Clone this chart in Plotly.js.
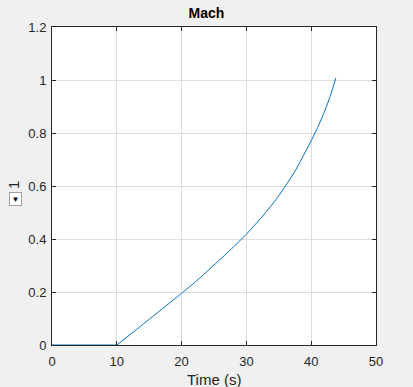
<!DOCTYPE html>
<html>
<head>
<meta charset="utf-8">
<script src="https://cdn.plot.ly/plotly-3.0.1.min.js"></script>
<style>html,body{margin:0;padding:0;background:#f0f0f0;}#chart{width:413px;height:387px;}</style>
</head>
<body>
<div id="chart"></div>
<script>
const timeS = [0, 10, 12.5, 15, 17.5, 20, 22.5, 25, 27.5, 30, 32.5, 35, 37.5, 40, 41, 42, 43, 43.8];
const mach  = [0, 0, 0.048, 0.097, 0.146, 0.195, 0.246, 0.302, 0.358, 0.418, 0.486, 0.563, 0.656, 0.771, 0.821, 0.878, 0.943, 1.008];
const xTicks = [0, 10, 20, 30, 40, 50];
const yTicks = [0, 0.2, 0.4, 0.6, 0.8, 1, 1.2];
const yTickText = ['0', '0.2', '0.4', '0.6', '0.8', '1', '1.2'];
const titleText = 'Mach';
const xTitle = 'Time (s)';
const yTitle = '1';

const font = {family: 'Liberation Sans, Arial, sans-serif', color: '#262626', size: 13};
const lineColor = '#0072BD';

// flat segment (before motion) drawn straight, the rest smoothed
const traces = [
  {x: timeS.slice(0, 2), y: mach.slice(0, 2), type: 'scatter', mode: 'lines',
   line: {color: lineColor, width: 1.2}, hoverinfo: 'skip', cliponaxis: false},
  {x: timeS.slice(1), y: mach.slice(1), type: 'scatter', mode: 'lines',
   line: {color: lineColor, width: 1, shape: 'spline', smoothing: 0.4}, hoverinfo: 'skip'}
];

Plotly.newPlot('chart', traces, {
  width: 413, height: 387,
  paper_bgcolor: '#f0f0f0', plot_bgcolor: '#ffffff',
  margin: {l: 52, r: 37, t: 27, b: 42},
  showlegend: false,
  font: font,
  title: {text: '<b>' + titleText + '</b>', font: {family: font.family, size: 14, color: '#000'}, x: 0.5, xanchor: 'center', y: 0.966, yanchor: 'middle'},
  xaxis: {
    range: [0, 50], tickvals: xTicks, ticktext: xTicks.map(String),
    showgrid: true, gridcolor: '#dcdcdc', gridwidth: 1, zeroline: false,
    showline: true, linecolor: '#262626', linewidth: 1, mirror: 'ticks',
    ticks: 'inside', ticklen: 4, tickcolor: '#262626', tickfont: font, ticklabelstandoff: 4
  },
  yaxis: {
    range: [0, 1.2], tickvals: yTicks, ticktext: yTickText,
    showgrid: true, gridcolor: '#dcdcdc', gridwidth: 1, zeroline: false,
    showline: true, linecolor: '#262626', linewidth: 1, mirror: 'ticks',
    ticks: 'inside', ticklen: 4, tickcolor: '#262626', tickfont: font, ticklabelstandoff: 2
  },
  annotations: [
    {xref: 'paper', yref: 'paper', x: 0.5, y: -0.110, xanchor: 'center', yanchor: 'middle',
     text: xTitle, showarrow: false, font: {family: font.family, size: 15, color: '#262626'}},
    {xref: 'paper', yref: 'paper', x: -0.1188, y: 0.5016, xanchor: 'center', yanchor: 'middle',
     text: yTitle, textangle: -90, showarrow: false, font: {family: font.family, size: 15, color: '#262626'}},
    {xref: 'paper', yref: 'paper', x: -0.1127, y: 0.46, xanchor: 'center', yanchor: 'middle',
     text: '▼', showarrow: false, font: {size: 8, color: '#000'},
     bgcolor: '#ffffff', bordercolor: '#a0a0a0', borderwidth: 1, borderpad: 1.5}
  ]
}, {displayModeBar: false, staticPlot: true});
</script>
</body>
</html>
